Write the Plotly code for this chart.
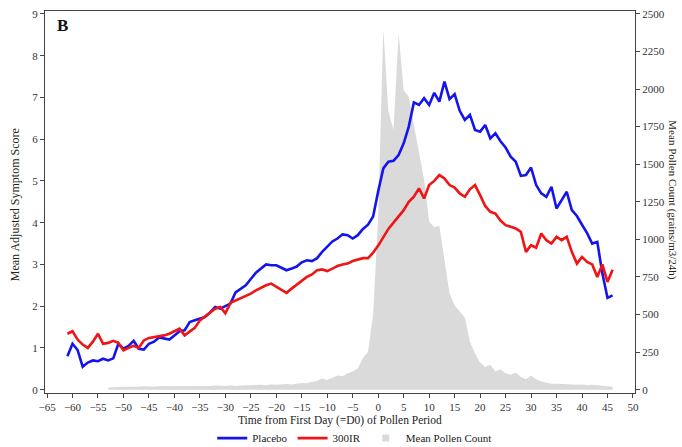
import plotly.graph_objects as go

# Daily mean adjusted symptom scores, days -61 .. 46
score_days = list(range(-61, 47))
placebo = [
    0.80, 1.10, 0.95, 0.55, 0.65, 0.70, 0.68, 0.74, 0.70, 0.75,
    1.10, 0.98, 1.05, 1.17, 0.98, 0.96, 1.10, 1.15, 1.25, 1.22,
    1.20, 1.30, 1.40, 1.42, 1.62, 1.66, 1.70, 1.74, 1.85, 1.98,
    1.94, 2.00, 2.06, 2.33, 2.42, 2.50, 2.65, 2.80, 2.90, 3.00,
    2.98, 2.98, 2.92, 2.86, 2.90, 2.95, 3.05, 3.10, 3.08, 3.15,
    3.30, 3.42, 3.55, 3.62, 3.72, 3.70, 3.62, 3.70, 3.85, 3.95,
    4.15, 4.75, 5.30, 5.46, 5.48, 5.62, 5.90, 6.30, 6.88, 6.82,
    6.98, 6.82, 7.11, 6.90, 7.38, 6.96, 7.08, 6.68, 6.46, 6.58,
    6.22, 6.18, 6.34, 6.02, 6.14, 5.95, 5.80, 5.58, 5.46, 5.12,
    5.14, 5.32, 4.90, 4.70, 4.62, 4.86, 4.34, 4.54, 4.74, 4.30,
    4.16, 3.95, 3.75, 3.50, 3.54, 2.78, 2.20, 2.26,
]
ir300 = [
    1.34, 1.40, 1.20, 1.08, 1.00, 1.15, 1.34, 1.10, 1.12, 1.17,
    1.12, 0.94, 1.00, 1.05, 1.00, 1.18, 1.24, 1.26, 1.28, 1.30,
    1.34, 1.40, 1.46, 1.30, 1.40, 1.48, 1.66, 1.76, 1.84, 1.94,
    1.98, 1.83, 2.08, 2.14, 2.18, 2.24, 2.30, 2.38, 2.44, 2.50,
    2.54, 2.46, 2.40, 2.32, 2.42, 2.52, 2.60, 2.70, 2.76, 2.86,
    2.88, 2.84, 2.90, 2.96, 3.00, 3.02, 3.08, 3.12, 3.15, 3.15,
    3.28, 3.45, 3.65, 3.85, 4.00, 4.15, 4.30, 4.50, 4.62, 4.82,
    4.58, 4.90, 5.00, 5.14, 5.06, 4.90, 4.84, 4.70, 4.62, 4.80,
    4.90, 4.66, 4.40, 4.26, 4.22, 4.05, 3.94, 3.90, 3.86, 3.78,
    3.30, 3.46, 3.40, 3.74, 3.58, 3.50, 3.66, 3.58, 3.66, 3.30,
    3.02, 3.18, 3.06, 3.00, 2.70, 3.00, 2.58, 2.87,
]

# Daily mean pollen count (grains/m3/24h), days -53 .. 46
pollen_days = list(range(-53, 47))
pollen = [
    15, 18, 18, 20, 20, 18, 20, 22, 20, 20,
    22, 25, 22, 22, 20, 22, 25, 22, 25, 22,
    25, 28, 25, 25, 28, 25, 28, 30, 28, 30,
    32, 30, 35, 32, 35, 38, 35, 40, 45, 42,
    50, 60, 75, 65, 80, 95, 90, 110, 120, 140,
    210, 250, 500, 1150, 2400, 1850, 1730, 2370, 1990, 1950,
    1760, 1580, 1400, 1120, 1080, 1090, 880, 640, 560, 520,
    480, 320, 240, 180, 150, 165, 120, 135, 110, 100,
    115, 85, 70, 95, 70, 55, 45, 40, 40, 38,
    35, 35, 32, 35, 30, 32, 30, 28, 25, 20,
]

x_ticks = list(range(-65, 51, 5))
score_ticks = list(range(0, 10))
pollen_ticks = list(range(0, 2501, 250))

FONT = "Liberation Serif"
TICK_COLOR = "#333333"
AXIS_COLOR = "#444444"

fig = go.Figure()

# Pollen area sits on the base y axis (drawn on the right) so the score lines stay on top
fig.add_trace(go.Scatter(
    x=pollen_days, y=pollen, yaxis="y", mode="lines",
    line=dict(width=0, color="rgba(0,0,0,0)"),
    fill="tozeroy", fillcolor="rgb(218,218,218)",
    showlegend=False, hoverinfo="skip",
))

fig.add_trace(go.Scatter(
    x=score_days, y=placebo, yaxis="y2", mode="lines", name="Placebo",
    line=dict(color="rgb(20,20,235)", width=2.6),
))
fig.add_trace(go.Scatter(
    x=score_days, y=ir300, yaxis="y2", mode="lines", name="300IR",
    line=dict(color="rgb(240,20,20)", width=2.6),
))
# Legend key for the pollen area
fig.add_trace(go.Scatter(
    x=[None], y=[None], yaxis="y", mode="markers", name="Mean Pollen Count",
    marker=dict(symbol="square", size=7, color="rgb(218,218,218)"),
))

score_max = 9.07
score_min = -0.08
scale = 2500 / 9

fig.update_layout(
    width=682, height=447,
    margin=dict(l=45, r=47, t=11, b=54, autoexpand=False),
    paper_bgcolor="white", plot_bgcolor="white",
    font=dict(family=FONT, size=11, color=TICK_COLOR),
    showlegend=True,
    legend=dict(
        orientation="h", x=0.525, xanchor="center", y=-0.118, yanchor="middle",
        font=dict(family=FONT, size=11, color="#222222"),
        itemwidth=30, tracegroupgap=0, bgcolor="rgba(0,0,0,0)",
    ),
    xaxis=dict(
        range=[-65.4, 50.4], tickvals=x_ticks,
        ticks="outside", ticklen=4, tickcolor=AXIS_COLOR,
        showline=True, linecolor=AXIS_COLOR, linewidth=1, mirror=True,
        showgrid=False, zeroline=False,
        tickfont=dict(family=FONT, size=11, color=TICK_COLOR),
    ),
    yaxis=dict(
        side="right", range=[score_min * scale, score_max * scale],
        tickvals=pollen_ticks,
        ticks="outside", ticklen=4, tickcolor=AXIS_COLOR,
        showline=True, linecolor=AXIS_COLOR, linewidth=1,
        showgrid=False, zeroline=False,
        tickfont=dict(family=FONT, size=11, color=TICK_COLOR),
    ),
    yaxis2=dict(
        overlaying="y", side="left", range=[score_min, score_max],
        tickvals=score_ticks,
        ticks="outside", ticklen=4, tickcolor=AXIS_COLOR,
        showline=True, linecolor=AXIS_COLOR, linewidth=1,
        showgrid=False, zeroline=False,
        tickfont=dict(family=FONT, size=11, color=TICK_COLOR),
    ),
    annotations=[
        dict(text="<b>B</b>", xref="paper", yref="paper", x=0.029, y=0.963,
             xanchor="center", yanchor="middle", showarrow=False,
             font=dict(family=FONT, size=17, color="#111111")),
        dict(text="Mean Adjusted Symptom Score", xref="paper", yref="paper",
             x=-0.051, y=0.494, xanchor="center", yanchor="middle",
             textangle=-90, showarrow=False,
             font=dict(family=FONT, size=12, color="#222222")),
        dict(text="Mean Pollen Count (grains/m3/24h)", xref="paper", yref="paper",
             x=1.064, y=0.505, xanchor="center", yanchor="middle",
             textangle=90, showarrow=False,
             font=dict(family=FONT, size=11, color="#222222")),
        dict(text="Time from First Day (=D0) of Pollen Period", xref="paper", yref="paper",
             x=0.5, y=-0.073, xanchor="center", yanchor="middle", showarrow=False,
             font=dict(family=FONT, size=11.5, color="#222222")),
    ],
)

fig.write_html("out.html")
